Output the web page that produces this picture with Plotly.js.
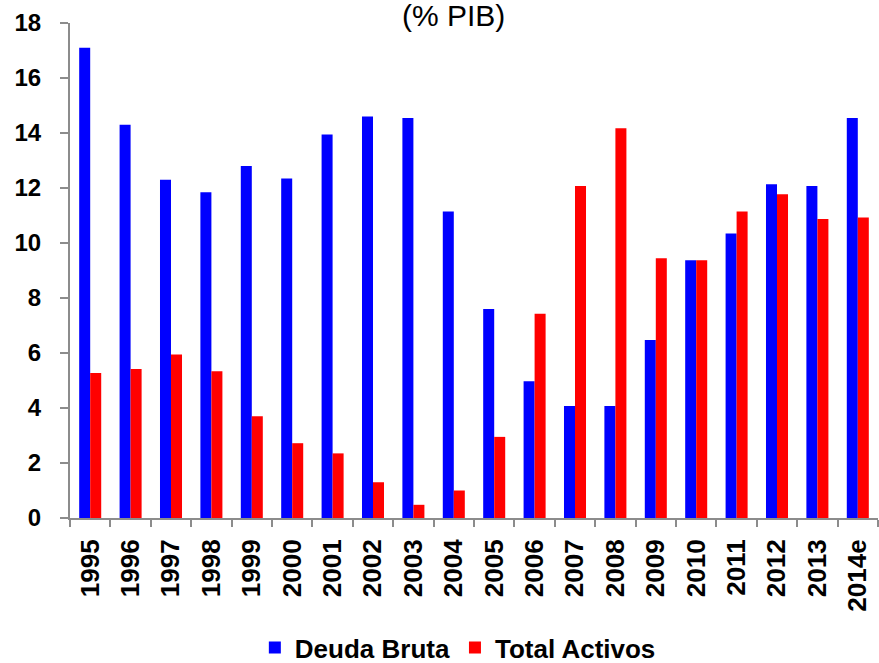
<!DOCTYPE html>
<html>
<head>
<meta charset="utf-8">
<script src="https://cdn.plot.ly/plotly-3.0.1.min.js"></script>
<style>html,body{margin:0;padding:0;background:#fff;}#chart{width:879px;height:663px;}</style>
</head>
<body>
<div id="chart"></div>
<script>
var years = ["1995","1996","1997","1998","1999","2000","2001","2002","2003","2004","2005","2006","2007","2008","2009","2010","2011","2012","2013","2014e"];
var deudaBruta = [17.1,14.3,12.3,11.85,12.8,12.35,13.95,14.6,14.55,11.15,7.6,4.97,4.07,4.07,6.47,9.37,10.35,12.14,12.07,14.55];
var totalActivos = [5.27,5.42,5.95,5.34,3.7,2.72,2.35,1.3,0.48,1.0,2.95,7.43,12.07,14.17,9.45,9.37,11.15,11.77,10.87,10.93];
var titleText = "(% PIB)";
var seriesNames = ["Deuda Bruta","Total Activos"];

var traces = [
  {type:"bar", name:seriesNames[0], x:years, y:deudaBruta, marker:{color:"#0000FF"}},
  {type:"bar", name:seriesNames[1], x:years, y:totalActivos, marker:{color:"#FF0000"}}
];
var layout = {
  width:879, height:663,
  margin:{l:70, r:1, t:23, b:145, autoexpand:false},
  paper_bgcolor:"#fff", plot_bgcolor:"#fff",
  barmode:"group", bargap:0.455, bargroupgap:0,
  font:{family:"Liberation Sans, Arial, sans-serif", color:"#000"},
  xaxis:{type:"category", showline:true, linecolor:"#8c8c8c", linewidth:2, automargin:false,
    ticks:"outside", tickson:"boundaries", ticklen:7, tickwidth:2, tickcolor:"#8c8c8c",
    tickangle:-90, tickfont:{size:26, family:"Liberation Sans, Arial, sans-serif", weight:"bold"},
    ticklabelstandoff:9, showgrid:false, zeroline:false, fixedrange:true},
  yaxis:{range:[0,18], dtick:2, tick0:0, showline:true, linecolor:"#8c8c8c", linewidth:2, automargin:false,
    ticks:"outside", ticklen:8, tickwidth:2, tickcolor:"#8c8c8c",
    tickfont:{size:24, family:"Liberation Sans, Arial, sans-serif", weight:"bold"},
    ticklabelstandoff:14, showgrid:false, zeroline:false, fixedrange:true},
  showlegend:true,
  legend:{orientation:"h", x:0.48, xanchor:"center", y:-0.262, yanchor:"middle",
    font:{size:26, family:"Liberation Sans, Arial, sans-serif", weight:"bold"},
    itemwidth:30, tracegroupgap:0, bgcolor:"rgba(0,0,0,0)"},
  annotations:[{text:titleText, xref:"paper", yref:"paper", x:0.475, y:1.015,
    xanchor:"center", yanchor:"middle", showarrow:false,
    font:{size:30, family:"Liberation Sans, Arial, sans-serif", color:"#000"}}]
};
Plotly.newPlot("chart", traces, layout, {displayModeBar:false, staticPlot:true});
</script>
</body>
</html>
